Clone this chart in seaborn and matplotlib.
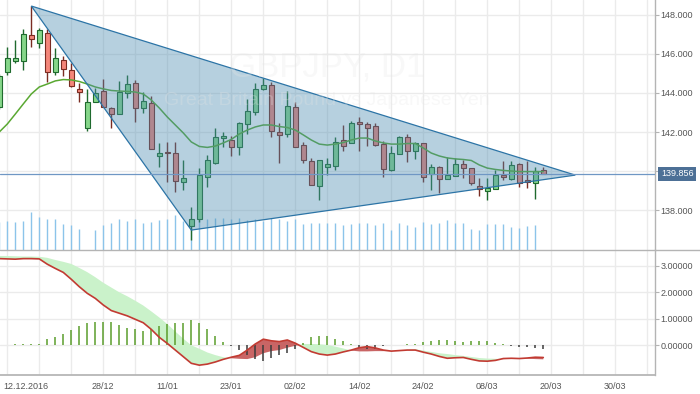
import numpy as np
import pandas as pd
import matplotlib
matplotlib.use("Agg")
import matplotlib.pyplot as plt
from matplotlib.lines import Line2D
from matplotlib.patches import Polygon
import seaborn as sns

# ---------------- data ----------------
bars = list(range(-1, 68))
opens = [143.28, 145.06, 145.66, 145.66, 146.97, 146.55, 147.06, 145.06, 145.69, 145.18,
         144.21, 142.19, 143.55, 144.10, 143.21, 142.91, 143.98, 144.50, 143.22, 143.47,
         140.78, 140.96, 140.91, 139.45, 137.19, 137.52, 139.71, 140.43, 141.68, 141.59,
         141.22, 142.39, 143.04, 144.19, 144.41, 142.02, 141.90, 143.27, 141.33, 140.51,
         139.23, 140.22, 140.27, 141.59, 141.45, 142.51, 142.39, 142.31, 141.38, 140.04,
         140.86, 141.73, 141.04, 141.42, 139.83, 140.19, 139.57, 139.76, 140.34, 140.14,
         139.25, 138.97, 139.06, 139.79, 139.61, 140.36, 139.54, 139.40, 140.05]
highs = [144.95, 146.37, 146.72, 147.27, 148.46, 147.32, 147.27, 146.29, 145.90, 145.55,
         144.50, 144.19, 144.24, 144.70, 143.30, 144.62, 144.92, 144.67, 144.07, 143.85,
         141.42, 141.50, 141.50, 140.56, 138.17, 140.14, 140.82, 142.19, 142.02, 141.79,
         142.53, 143.68, 144.50, 144.75, 144.58, 142.45, 144.12, 143.55, 141.50, 140.66,
         140.56, 140.65, 141.76, 142.36, 142.56, 142.79, 142.53, 142.45, 141.54, 141.28,
         141.79, 141.90, 141.50, 141.45, 140.36, 140.26, 140.73, 140.65, 140.56, 140.14,
         139.62, 139.62, 140.05, 140.51, 140.51, 140.43, 140.53, 140.22, 140.22]
lows = [143.20, 144.92, 145.52, 145.18, 146.37, 146.29, 144.58, 144.92, 144.87, 144.29,
        143.52, 142.07, 143.55, 143.27, 142.19, 142.91, 143.76, 142.53, 142.99, 141.11,
        140.22, 139.45, 138.94, 139.03, 136.46, 137.40, 139.19, 140.36, 141.25, 140.77,
        140.82, 141.90, 142.87, 144.15, 141.73, 140.43, 141.73, 141.22, 140.43, 139.27,
        138.51, 139.79, 140.05, 141.04, 141.45, 141.04, 141.28, 141.28, 139.68, 140.02,
        140.86, 140.48, 140.60, 139.45, 139.03, 138.86, 139.57, 139.76, 139.63, 139.28,
        138.72, 138.51, 139.06, 139.54, 139.54, 139.16, 139.14, 138.58, 139.85]
closes = [144.87, 145.78, 145.78, 147.03, 146.75, 147.23, 145.09, 145.78, 145.22, 144.37,
          144.07, 143.52, 144.01, 143.30, 142.91, 144.07, 144.45, 143.22, 143.61, 141.11,
          140.91, 140.91, 139.50, 139.62, 137.52, 139.79, 140.56, 141.73, 141.79, 141.25,
          142.48, 143.09, 144.19, 144.41, 142.07, 141.83, 143.33, 141.25, 140.56, 139.27,
          140.56, 140.34, 141.47, 141.30, 142.45, 142.39, 142.22, 141.33, 140.09, 140.91,
          141.76, 141.04, 141.42, 139.68, 140.19, 139.57, 139.79, 140.34, 140.17, 139.37,
          139.08, 139.14, 139.79, 139.68, 140.31, 139.37, 139.44, 140.00, 139.856]
ma20 = [142.00, 142.41, 142.92, 143.44, 143.95, 144.31, 144.46, 144.62, 144.69, 144.67,
        144.59, 144.46, 144.31, 144.21, 144.13, 144.10, 144.08, 144.05, 143.95, 143.64,
        143.23, 142.77, 142.36, 141.95, 141.49, 141.26, 141.21, 141.28, 141.44, 141.62,
        141.90, 142.10, 142.26, 142.36, 142.36, 142.28, 142.23, 142.10, 141.85, 141.59,
        141.38, 141.33, 141.38, 141.46, 141.59, 141.69, 141.69, 141.54, 141.44, 141.38,
        141.38, 141.41, 141.41, 141.18, 140.92, 140.77, 140.67, 140.62, 140.59, 140.54,
        140.31, 140.15, 140.08, 140.03, 140.00, 139.97, 139.97, 139.97, 139.97]
volume = [28, 29, 28, 29, 38, 33, 31, 31, 26, 25,
          21, 0, 20, 25, 27, 31, 29, 31, 27, 28,
          30, 31, 35, 29, 31, 31, 31, 32, 32, 31,
          32, 30, 31, 29, 32, 30.7, 29, 30.7, 26, 27.3,
          27.3, 26.7, 27.3, 25, 26, 27.3, 26.7, 25, 27.3, 20,
          26.7, 25, 23.3, 27.7, 26, 27.3, 30, 27.3, 26.7, 21,
          20, 26, 26, 26, 23.3, 22.3, 24, 25, 0]
macd_line = [3.27, 3.26, 3.25, 3.27, 3.27, 3.26, 3.06, 2.90, 2.75, 2.49,
             2.21, 1.96, 1.77, 1.52, 1.31, 1.21, 1.11, 0.98, 0.85, 0.60,
             0.30, 0.07, -0.18, -0.43, -0.68, -0.75, -0.71, -0.63, -0.53, -0.45,
             -0.38, -0.18, 0.05, 0.23, 0.17, 0.14, 0.20, 0.08, -0.08, -0.24,
             -0.33, -0.37, -0.33, -0.25, -0.18, -0.09, -0.05, -0.10, -0.18, -0.22,
             -0.20, -0.18, -0.18, -0.26, -0.33, -0.42, -0.49, -0.47, -0.46, -0.53,
             -0.59, -0.60, -0.57, -0.50, -0.49, -0.50, -0.48, -0.45, -0.46]
macd_signal = [3.37, 3.37, 3.36, 3.35, 3.35, 3.34, 3.30, 3.22, 3.15, 3.07,
               2.92, 2.76, 2.57, 2.36, 2.18, 2.00, 1.85, 1.68, 1.50, 1.28,
               1.05, 0.80, 0.52, 0.25, 0.00, -0.13, -0.27, -0.37, -0.45, -0.49,
               -0.51, -0.52, -0.45, -0.30, -0.22, -0.18, -0.09, -0.02, 0.05, 0.05,
               0.04, 0.01, -0.05, -0.12, -0.20, -0.23, -0.23, -0.22, -0.22, -0.22,
               -0.20, -0.17, -0.15, -0.20, -0.25, -0.30, -0.33, -0.37, -0.40, -0.44,
               -0.48, -0.50, -0.51, -0.52, -0.51, -0.49, -0.50, -0.52, -0.53]
macd_hist = [0.02, 0.02, 0.06, 0.03, 0.06, 0.06, 0.23, 0.31, 0.44, 0.59,
             0.72, 0.84, 0.87, 0.89, 0.89, 0.78, 0.65, 0.62, 0.54, 0.63,
             0.72, 0.82, 0.84, 0.86, 0.97, 0.84, 0.62, 0.34, 0.13, -0.02,
             -0.19, -0.38, -0.50, -0.59, -0.47, -0.38, -0.29, -0.13, 0.09, 0.30,
             0.35, 0.35, 0.24, 0.16, 0.03, -0.09, -0.13, -0.13, -0.04, 0.00,
             0.02, 0.03, 0.03, 0.13, 0.16, 0.21, 0.21, 0.16, 0.13, 0.16,
             0.16, 0.16, 0.09, 0.04, -0.04, -0.06, -0.06, -0.09, -0.13]
grid_bars = list(range(0, 81, 4))
tick_bars = [12, 20, 28, 36, 44, 52, 60, 68, 76]
tick_labels = ["28/12", "11/01", "23/01", "02/02", "14/02", "24/02", "08/03", "20/03", "30/03"]
first_label = "12.12.2016"
first_label_bar = -0.5
price_ticks = [138, 140, 142, 144, 146, 148]
macd_ticks = [0, 1, 2, 3]
last_price = 139.856
tri_bars = [3, 23, 71]
tri_prices = [148.46, 136.97, 139.79]
title_main = "GBPJPY, D1"
title_sub = "Great Britain Pound vs Japanese Yen"

# ---------------- style ----------------
sns.set_theme(style="white")
plt.rcParams['font.family'] = ['Liberation Sans', 'DejaVu Sans']

W, H = 700, 394
fig = plt.figure(figsize=(W / 100, H / 100), dpi=100, facecolor="white")
ax1 = fig.add_axes([0, 1 - 250 / H, 655 / W, 250 / H])
ax2 = fig.add_axes([0, 1 - 375 / H, 655 / W, 125 / H])

GRID = "#ebebeb"
AXC = "#b4b4b4"
TXT = "#555555"
FS = 6.5

df = pd.DataFrame(dict(bar=bars, open=opens, high=highs, low=lows, close=closes,
                       ma=ma20, vol=volume, macd=macd_line, sig=macd_signal, hist=macd_hist))

for ax in (ax1, ax2):
    ax.set_facecolor("white")
    ax.set_xlim(-0.9125, 80.9625)
    ax.set_xticks(grid_bars)
    ax.grid(True, color=GRID, lw=1)
    ax.set_axisbelow(True)
    for s in ("left", "top", "bottom"):
        ax.spines[s].set_visible(False)
    ax.spines["right"].set_color(AXC)
    ax.spines["right"].set_linewidth(1)
    ax.yaxis.tick_right()
    ax.tick_params(axis="y", length=2.9, width=0.8, color=AXC, pad=1,
                   labelsize=FS, labelcolor=TXT)

# ---- price pane ----
ax1.set_ylim(135.949, 148.769)
ax1.set_yticks(price_ticks)
ax1.set_yticklabels(["" if t == 140 else f"{t:.3f}" for t in price_ticks])
ax1.tick_params(axis="x", length=0, labelbottom=False)

# volume
ax1.vlines(df["bar"], 0, df["vol"] / 250.0, transform=ax1.get_xaxis_transform(),
           color="#8cc4ea", lw=1, zorder=1.5)

up = df[df["close"] >= df["open"]]
dn = df[df["close"] < df["open"]]
for sub, fc, ec in ((up, "#86d68a", "#1f6a2e"), (dn, "#f4867a", "#7a2c22")):
    ax1.vlines(sub["bar"], sub["low"], sub["high"], color=ec, lw=1, zorder=2.9)
    body_lo = np.minimum(sub["open"], sub["close"])
    body_h = np.maximum((sub["close"] - sub["open"]).abs(), 0.05)
    ax1.bar(sub["bar"], body_h, bottom=body_lo, width=0.56, color=fc,
            edgecolor=ec, linewidth=0.8, zorder=3)

sns.lineplot(data=df, x="bar", y="ma", ax=ax1, color="#5aa832", lw=1.1, zorder=3.5)

tri = Polygon(list(zip(tri_bars, tri_prices)), closed=True,
              facecolor=(0.29, 0.545, 0.69, 0.40), edgecolor="#2c74a6", lw=0.9, zorder=4)
ax1.add_patch(tri)

ax1.text(40.0, 145.35, title_main, ha="center", va="center", fontsize=25,
         color="#e6e6e6", alpha=0.28, zorder=4.5)
ax1.text(40.0, 143.6, title_sub, ha="center", va="center", fontsize=14,
         color="#e6e6e6", alpha=0.28, zorder=4.5)

ax1.axhline(last_price, color="#6f97c4", lw=0.9, zorder=5)
ax1.annotate(f"{last_price:.3f}", xy=(1, last_price), xycoords=("axes fraction", "data"),
             xytext=(6, 0), textcoords="offset pixels", ha="left", va="center",
             fontsize=FS, color="white", annotation_clip=False,
             bbox=dict(boxstyle="square,pad=0.28", fc="#4d7096", ec="none"))
ax1.set_xlabel("")
ax1.set_ylabel("")

# ---- MACD pane ----
ax2.set_ylim(-1.121, 3.596)
ax2.set_yticks(macd_ticks)
ax2.set_yticklabels([f"{t:.5f}" for t in macd_ticks])
ax2.spines["bottom"].set_visible(True)
ax2.spines["bottom"].set_color(AXC)
ax2.set_xticklabels([tick_labels[tick_bars.index(b)] if b in tick_bars else "" for b in grid_bars])
ax2.tick_params(axis="x", length=2.2, width=0.8, color=AXC, pad=2.5,
                labelsize=FS, labelcolor=TXT)
ax2.annotate(first_label, xy=(first_label_bar, 0), xycoords=("data", "axes fraction"),
             xytext=(0, -4.7), textcoords="offset points", ha="left", va="top",
             fontsize=FS, color=TXT, annotation_clip=False)

m = np.array(macd_line)
s = np.array(macd_signal)
ax2.fill_between(bars, m, s, where=s >= m, interpolate=True, color="#caf2ca", lw=0, zorder=2)
ax2.fill_between(bars, m, s, where=m > s, interpolate=True, color="#c96565", lw=0, zorder=2)
pos = df[df["hist"] >= 0]
neg = df[df["hist"] < 0]
ax2.vlines(pos["bar"], 0, pos["hist"], color="#5b9e2c", lw=1.1, zorder=3)
ax2.vlines(neg["bar"], 0, neg["hist"], color="#3c3c3c", lw=1.1, zorder=3)
sns.lineplot(data=df, x="bar", y="macd", ax=ax2, color="#c23b32", lw=1.2, zorder=4)
ax2.set_xlabel("")
ax2.set_ylabel("")

# pane separator across the full width
fig.add_artist(Line2D([0, 1], [1 - 250 / H] * 2, transform=fig.transFigure,
                      color=AXC, lw=1))

fig.savefig("out.png", dpi=100, facecolor="white")
